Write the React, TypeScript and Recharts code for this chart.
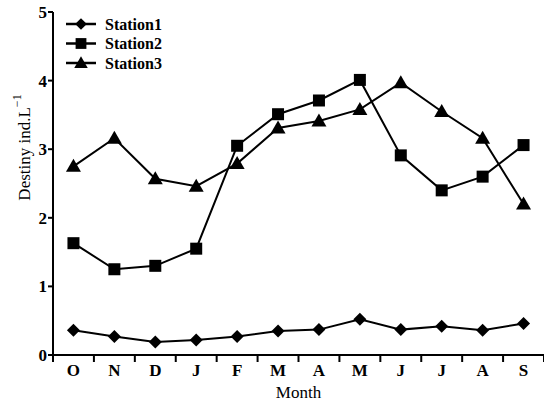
import React from "react";
import { Legend, Line, LineChart, XAxis, YAxis } from "recharts";

const months = ["O", "N", "D", "J", "F", "M", "A", "M", "J", "J", "A", "S"];
const station1 = [0.36, 0.27, 0.19, 0.22, 0.27, 0.35, 0.37, 0.52, 0.37, 0.42, 0.36, 0.46];
const station2 = [1.63, 1.25, 1.3, 1.55, 3.05, 3.51, 3.71, 4.01, 2.91, 2.4, 2.6, 3.06];
const station3 = [2.75, 3.16, 2.57, 2.46, 2.79, 3.31, 3.41, 3.58, 3.97, 3.55, 3.16, 2.2];
const yTicks = [0, 1, 2, 3, 4, 5];

const data = months.map((m, i) => ({
  key: i,
  month: m,
  Station1: station1[i],
  Station2: station2[i],
  Station3: station3[i],
}));

const serif = "'Liberation Serif', 'Times New Roman', serif";
const X_TICK = 7;
const X_MARGIN = 2;

type Kind = "diamond" | "square" | "triangle";

const marker = (kind: Kind, cx: number, cy: number, s = 1) => {
  if (kind === "diamond") {
    const r = 6.5 * s;
    return <polygon points={`${cx},${cy - r} ${cx + r},${cy} ${cx},${cy + r} ${cx - r},${cy}`} fill="#000" />;
  }
  if (kind === "square") {
    const r = 6 * s;
    return <rect x={cx - r} y={cy - r} width={2 * r} height={2 * r} fill="#000" />;
  }
  const w = 7.5 * s;
  return (
    <polygon
      points={`${cx},${cy - 7.5 * s} ${cx + w},${cy + 5.5 * s} ${cx - w},${cy + 5.5 * s}`}
      fill="#000"
    />
  );
};

const dotOf = (kind: Kind) => (props: any) => {
  const { cx, cy, index } = props;
  if (cx == null || cy == null) return <g key={index} />;
  return <g key={index}>{marker(kind, cx, cy)}</g>;
};

const kinds: Kind[] = ["diamond", "square", "triangle"];

// category labels sit at band centres, tick marks at band edges
const MonthTick = (props: any) => {
  const { x, y, payload, index } = props;
  const half = payload && payload.offset ? payload.offset : 20.45;
  const axisY = y - X_TICK - X_MARGIN;
  return (
    <g>
      <line x1={x - half} y1={axisY} x2={x - half} y2={axisY + X_TICK} stroke="#000" strokeWidth={2} />
      {index === months.length - 1 && (
        <line x1={x + half} y1={axisY} x2={x + half} y2={axisY + X_TICK} stroke="#000" strokeWidth={2} />
      )}
      <text x={x} y={y} dy="0.71em" textAnchor="middle" fontFamily={serif} fontWeight="bold" fontSize={17} fill="#000">
        {months[payload.value]}
      </text>
    </g>
  );
};

const YLabel = (props: any) => {
  const vb = props.viewBox || { x: 0, y: 12, width: 53, height: 343 };
  const cx = 24;
  const cy = vb.y + vb.height / 2 - 36;
  return (
    <text
      x={cx}
      y={cy}
      transform={`rotate(-90 ${cx} ${cy})`}
      textAnchor="middle"
      dominantBaseline="central"
      fontFamily={serif}
      fontSize={17}
      fill="#000"
    >
      Destiny ind.L
      <tspan dy={-7} fontSize={12}>−1</tspan>
    </text>
  );
};

const renderLegend = (props: any) => {
  const payload = props.payload || [];
  return (
    <svg width={130} height={60}>
      {payload.map((entry: any, i: number) => {
        const cy = 10 + i * 19.5;
        return (
          <g key={entry.value}>
            <line x1={0} y1={cy} x2={30} y2={cy} stroke="#000" strokeWidth={2.5} />
            {marker(kinds[i], 15, cy, 0.9)}
            <text x={39} y={cy} dominantBaseline="central" fontFamily={serif} fontWeight="bold" fontSize={16} fill="#000">
              {entry.value}
            </text>
          </g>
        );
      })}
    </svg>
  );
};

export default function App() {
  return (
    <div style={{ position: "absolute", left: 0, top: 0, background: "#fff" }}>
      <LineChart width={544} height={404} data={data} margin={{ top: 12, right: 0, bottom: 14, left: 0 }}>
        <XAxis
          dataKey="key"
          type="category"
          scale="band"
          axisLine={{ stroke: "#000", strokeWidth: 2 }}
          tickLine={false}
          tickSize={X_TICK}
          tickMargin={X_MARGIN}
          interval={0}
          height={35}
          tick={(p: any) => <MonthTick {...p} />}
          label={{ value: "Month", position: "insideBottom", offset: -8, fontFamily: serif, fontSize: 17, fill: "#000" }}
        />
        <YAxis
          domain={[0, 5]}
          ticks={yTicks}
          width={53}
          interval={0}
          axisLine={{ stroke: "#000", strokeWidth: 2 }}
          tickLine={{ stroke: "#000", strokeWidth: 2 }}
          tickSize={5}
          tickMargin={1}
          tick={{ fontFamily: serif, fontWeight: "bold", fontSize: 17, fill: "#000" }}
          label={<YLabel />}
        />
        <Legend
          layout="vertical"
          align="center"
          verticalAlign="middle"
          content={renderLegend}
          wrapperStyle={{ left: 66, top: 14, width: 130, height: 60 }}
        />
        <Line dataKey="Station1" stroke="#000" strokeWidth={2} dot={dotOf("diamond")} isAnimationActive={false} />
        <Line dataKey="Station2" stroke="#000" strokeWidth={2} dot={dotOf("square")} isAnimationActive={false} />
        <Line dataKey="Station3" stroke="#000" strokeWidth={2} dot={dotOf("triangle")} isAnimationActive={false} />
      </LineChart>
    </div>
  );
}
